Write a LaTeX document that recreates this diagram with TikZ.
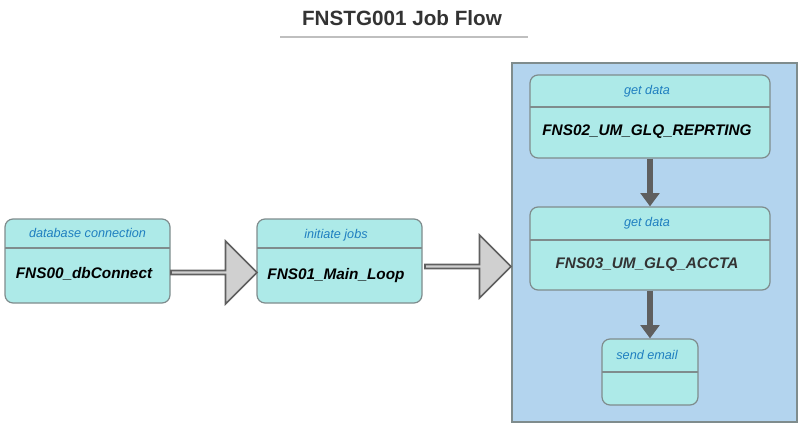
\documentclass[tikz,border=0pt]{standalone}
\usepackage{fontspec}
\setmainfont{Liberation Sans}
\usetikzlibrary{shapes.arrows,arrows.meta}
\definecolor{boxfill}{HTML}{ADEAE8}
\definecolor{boxline}{HTML}{7F8C8D}
\definecolor{headtxt}{HTML}{1F7FC0}
\definecolor{grpfill}{HTML}{B3D4EE}
\definecolor{arrfill}{HTML}{D0D0D0}
\definecolor{arrline}{HTML}{5F5F5F}
\begin{document}
\begin{tikzpicture}
[x=0.75pt, y=-0.75pt,
job/.style={draw=boxline, fill=boxfill, rounded corners=6pt, line width=0.9pt, inner sep=0pt},
head/.style={font=\fontsize{9.5}{11}\selectfont\itshape, text=headtxt},
body/.style={font=\fontsize{11.5}{13}\selectfont\bfseries\itshape},
big arrow/.style={single arrow, draw=arrline, fill=arrfill, line width=1.2pt, minimum width=63*0.75pt, single arrow head extend=12*0.75pt, minimum height=86*0.75pt, inner sep=0pt},
flow/.style={draw=arrline, line width=5pt, -{Triangle[length=10pt,width=14pt]}}]
\useasboundingbox (0,0) rectangle (802,431);
\node[font=\fontsize{15.5}{18}\selectfont\bfseries, text=black!80] (title) at (402,18) {FNSTG001 Job Flow};
\draw[black!25, line width=1pt] (280,37) -- (528,37);
% group
\draw[draw=boxline, fill=grpfill, line width=0.9pt] (512,63) rectangle (797,422);
% jobs
\node[job, minimum width=165*0.75pt, minimum height=84*0.75pt] (db) at (87.5,261) {};
\draw[boxline, line width=0.9pt] (5,248) -- (170,248);
\node[head] (dbh) at (87.5,233) {database connection};
\node[body] (dbb) at (84,274) {FNS00\_dbConnect};
\node[job, minimum width=165*0.75pt, minimum height=84*0.75pt] (ml) at (339.5,261) {};
\draw[boxline, line width=0.9pt] (257,248) -- (422,248);
\node[head] (mlh) at (336,235) {initiate jobs};
\node[body] (mlb) at (336,276) {FNS01\_Main\_Loop};
\node[job, minimum width=240*0.75pt, minimum height=83*0.75pt] (rp) at (650,116.5) {};
\draw[boxline, line width=0.9pt] (530,107) -- (770,107);
\node[head] (rph) at (647,91) {get data};
\node[body] (rpb) at (647,132) {FNS02\_UM\_GLQ\_REPRTING};
\node[job, minimum width=240*0.75pt, minimum height=83*0.75pt] (ac) at (650,248.5) {};
\draw[boxline, line width=0.9pt] (530,240) -- (770,240);
\node[head] (ach) at (647,223) {get data};
\node[body, text=black!80] (acb) at (647,265) {FNS03\_UM\_GLQ\_ACCTA};
\node[job, minimum width=96*0.75pt, minimum height=66*0.75pt] (em) at (650,372) {};
\draw[boxline, line width=0.9pt] (602,372) -- (698,372);
\node[head] (emh) at (647,355) {send email};
% connectors
\node[big arrow] (a1) at (213,272.5) {};
\node[big arrow] (a2) at (467,266.5) {};
\draw[flow] (rp.south) -- (ac.north);
\draw[flow] (ac.south) -- (em.north);
\end{tikzpicture}
\end{document}
